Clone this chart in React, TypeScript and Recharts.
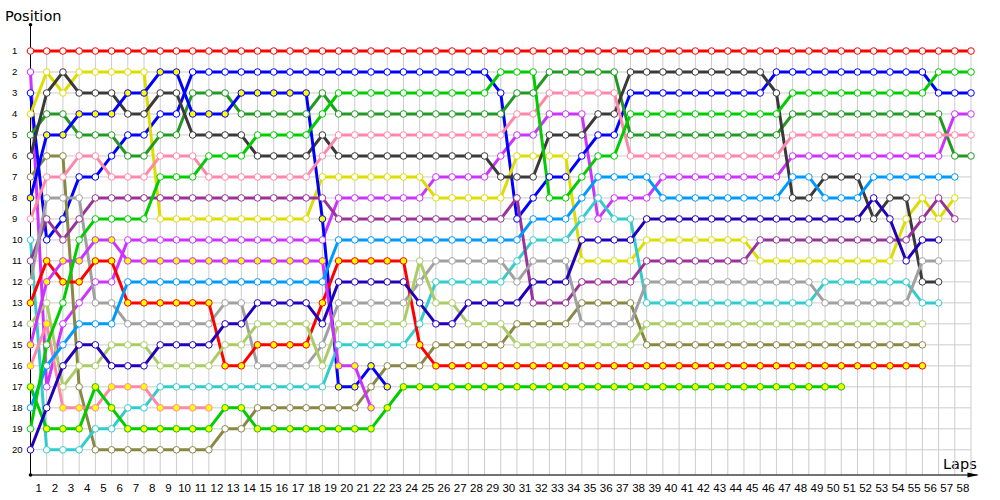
import React from 'react';
import { LineChart, Line, XAxis, YAxis, CartesianGrid, ReferenceLine } from 'recharts';

const n = null;

const laps = [
  0, 1, 2, 3, 4, 5, 6, 7, 8, 9, 10, 11, 12, 13, 14, 15, 16, 17, 18, 19,
  20, 21, 22, 23, 24, 25, 26, 27, 28, 29, 30, 31, 32, 33, 34, 35, 36, 37, 38, 39,
  40, 41, 42, 43, 44, 45, 46, 47, 48, 49, 50, 51, 52, 53, 54, 55, 56, 57, 58,
];
const lapTicks = laps.slice(1);
const positionTicks = [1, 2, 3, 4, 5, 6, 7, 8, 9, 10, 11, 12, 13, 14, 15, 16, 17, 18, 19, 20];

// position of each car at the end of every lap (lap 0 = grid), null = retired
const redWhite = [
  1, 1, 1, 1, 1, 1, 1, 1, 1, 1,
  1, 1, 1, 1, 1, 1, 1, 1, 1, 1,
  1, 1, 1, 1, 1, 1, 1, 1, 1, 1,
  1, 1, 1, 1, 1, 1, 1, 1, 1, 1,
  1, 1, 1, 1, 1, 1, 1, 1, 1, 1,
  1, 1, 1, 1, 1, 1, 1, 1, 1,
];
const violetWhite = [
  2, 17, 14, 13, 12, 12, 10, 10, 10, 10,
  10, 10, 10, 10, 10, 10, 10, 10, 10, 8,
  8, 8, 8, 8, 8, 7, 7, 7, 7, 6,
  5, 5, 4, 4, 4, 9, 8, 8, 8, 7,
  7, 7, 7, 7, 7, 7, 7, 6, 6, 6,
  6, 6, 6, 6, 6, 6, 6, 4, 4,
];
const blueWhite = [
  3, 10, 9, 7, 7, 6, 5, 5, 4, 4,
  2, 2, 2, 2, 2, 2, 2, 2, 2, 2,
  2, 2, 2, 2, 2, 2, 2, 2, 2, 3,
  9, 8, 7, 7, 6, 5, 5, 3, 3, 3,
  3, 3, 3, 3, 3, 3, 2, 2, 2, 2,
  2, 2, 2, 2, 2, 2, 3, 3, 3,
];
const yellow = [
  4, 2, 3, 2, 2, 2, 2, 2, 9, 9,
  9, 9, 9, 9, 9, 9, 9, 9, 7, 7,
  7, 7, 7, 7, 7, 8, 8, 8, 8, 8,
  6, 6, 6, 6, 11, 11, 11, 11, 10, 10,
  10, 10, 10, 10, 10, 11, 11, 11, 11, 11,
  11, 11, 11, 11, 9, 8, 9, 8, n,
];
const darkGreen = [
  5, 4, 4, 5, 5, 5, 6, 6, 5, 5,
  3, 3, 3, 4, 4, 4, 4, 4, 3, 4,
  4, 4, 4, 4, 4, 4, 4, 4, 4, 4,
  3, 3, 2, 2, 2, 2, 2, 5, 5, 5,
  5, 5, 5, 5, 5, 5, 5, 4, 4, 4,
  4, 4, 4, 4, 4, 4, 4, 6, 6,
];
const black = [
  6, 3, 2, 3, 3, 3, 4, 4, 3, 3,
  5, 5, 5, 5, 6, 6, 6, 6, 5, 6,
  6, 6, 6, 6, 6, 6, 6, 6, 6, 7,
  7, 7, 5, 5, 5, 4, 4, 2, 2, 2,
  2, 2, 2, 2, 2, 2, 3, 8, 8, 7,
  7, 7, 9, 8, 8, 12, 12, n, n,
];
const olive = [
  7, 6, 6, 17, 20, 20, 20, 20, 20, 20,
  20, 20, 19, 19, 18, 18, 18, 18, 18, 18,
  18, 17, 16, 16, 16, 15, 15, 15, 15, 15,
  14, 14, 14, 14, 13, 13, 13, 13, 15, 15,
  15, 15, 15, 15, 15, 15, 15, 15, 15, 15,
  15, 15, 15, 15, 15, 15, n, n, n,
];
const blueYellow = [
  8, 5, 5, 4, 4, 4, 3, 3, 2, 2,
  4, 4, 4, 3, 3, 3, 3, 3, 9, 17,
  17, 16, 17, n, n, n, n, n, n, n,
  n, n, n, n, n, n, n, n, n, n,
  n, n, n, n, n, n, n, n, n, n,
  n, n, n, n, n, n, n, n, n,
];
const pinkWhite = [
  9, 7, 7, 6, 6, 7, 7, 7, 6, 6,
  6, 7, 7, 7, 7, 7, 7, 7, 6, 5,
  5, 5, 5, 5, 5, 5, 5, 5, 5, 5,
  4, 4, 3, 3, 3, 3, 3, 6, 6, 6,
  6, 6, 6, 6, 6, 6, 6, 5, 5, 5,
  5, 5, 5, 5, 5, 5, 5, 5, 5,
];
const cyan = [
  10, 20, 20, 20, 19, 19, 18, 18, 17, 17,
  17, 17, 17, 17, 17, 17, 17, 17, 17, 15,
  15, 15, 15, 15, 14, 12, 12, 12, 12, 12,
  11, 10, 10, 10, 9, 8, 9, 9, 13, 13,
  13, 13, 13, 13, 13, 13, 13, 13, 13, 12,
  12, 12, 12, 12, 12, 13, 13, n, n,
];
const darkPurple = [
  11, 9, 10, 9, 8, 8, 8, 8, 8, 8,
  8, 8, 8, 8, 8, 8, 8, 8, 8, 9,
  9, 9, 9, 9, 9, 9, 9, 9, 9, 9,
  8, 13, 13, 13, 12, 12, 12, 12, 11, 11,
  11, 11, 11, 11, 11, 10, 10, 10, 10, 10,
  10, 10, 10, 10, 10, 9, 8, 9, n,
];
const gray = [
  12, 8, 8, 8, 13, 13, 14, 14, 14, 14,
  14, 14, 13, 13, 16, 16, 16, 16, 15, 13,
  13, 13, 13, 13, 12, 11, 11, 11, 11, 11,
  12, 11, 11, 11, 14, 14, 14, 14, 12, 12,
  12, 12, 12, 12, 12, 12, 12, 12, 12, 13,
  13, 13, 13, 13, 13, 11, 11, n, n,
];
const redYellow = [
  13, 11, 12, 12, 11, 11, 13, 13, 13, 13,
  13, 13, 16, 16, 15, 15, 15, 15, 13, 11,
  11, 11, 11, 11, 15, 16, 16, 16, 16, 16,
  16, 16, 16, 16, 16, 16, 16, 16, 16, 16,
  16, 16, 16, 16, 16, 16, 16, 16, 16, 16,
  16, 16, 16, 16, 16, 16, n, n, n,
];
const lightGreen = [
  14, 13, 17, 16, 16, 15, 15, 15, 16, 16,
  16, 16, 15, 15, 14, 14, 14, 14, 16, 14,
  14, 14, 14, 14, 11, 13, 13, 14, 14, 14,
  15, 15, 15, 15, 15, 15, 15, 15, 14, 14,
  14, 14, 14, 14, 14, 14, 14, 14, 14, 14,
  14, 14, 14, 14, 14, 14, n, n, n,
];
const violetYellow = [
  15, 12, 11, 11, 10, 10, 11, 11, 11, 11,
  11, 11, 11, 11, 11, 11, 11, 11, 11, 16,
  16, 18, n, n, n, n, n, n, n, n,
  n, n, n, n, n, n, n, n, n, n,
  n, n, n, n, n, n, n, n, n, n,
  n, n, n, n, n, n, n, n, n,
];
const pinkYellow = [
  16, 14, 18, 18, 18, 17, 17, 17, 18, 18,
  18, 18, n, n, n, n, n, n, n, n,
  n, n, n, n, n, n, n, n, n, n,
  n, n, n, n, n, n, n, n, n, n,
  n, n, n, n, n, n, n, n, n, n,
  n, n, n, n, n, n, n, n, n,
];
const greenYellow = [
  17, 19, 19, 19, 17, 18, 19, 19, 19, 19,
  19, 19, 18, 18, 19, 19, 19, 19, 19, 19,
  19, 19, 18, 17, 17, 17, 17, 17, 17, 17,
  17, 17, 17, 17, 17, 17, 17, 17, 17, 17,
  17, 17, 17, 17, 17, 17, 17, 17, 17, 17,
  17, n, n, n, n, n, n, n, n,
];
const lightBlue = [
  18, 16, 15, 14, 14, 14, 12, 12, 12, 12,
  12, 12, 12, 12, 12, 12, 12, 12, 12, 10,
  10, 10, 10, 10, 10, 10, 10, 10, 10, 10,
  10, 9, 9, 9, 8, 7, 7, 7, 7, 8,
  8, 8, 8, 8, 8, 8, 8, 7, 7, 8,
  8, 8, 7, 7, 7, 7, 7, 7, n,
];
const greenWhite = [
  19, 15, 13, 10, 9, 9, 9, 9, 7, 7,
  7, 6, 6, 6, 5, 5, 5, 5, 4, 3,
  3, 3, 3, 3, 3, 3, 3, 3, 3, 2,
  2, 2, 8, 8, 7, 6, 6, 4, 4, 4,
  4, 4, 4, 4, 4, 4, 4, 3, 3, 3,
  3, 3, 3, 3, 3, 3, 2, 2, 2,
];
const darkBlue = [
  20, 18, 16, 15, 15, 16, 16, 16, 15, 15,
  15, 15, 14, 14, 13, 13, 13, 13, 14, 12,
  12, 12, 12, 12, 13, 14, 14, 13, 13, 13,
  13, 12, 12, 12, 10, 10, 10, 10, 9, 9,
  9, 9, 9, 9, 9, 9, 9, 9, 9, 9,
  9, 9, 8, 9, 11, 10, 10, n, n,
];

const series = [
  { key: 'redWhite', data: redWhite, color: '#ff0000', fill: '#ffffff' },
  { key: 'violetWhite', data: violetWhite, color: '#cc33ff', fill: '#ffffff' },
  { key: 'blueWhite', data: blueWhite, color: '#0000ff', fill: '#ffffff' },
  { key: 'yellow', data: yellow, color: '#dddd00', fill: '#ffffff' },
  { key: 'darkGreen', data: darkGreen, color: '#229922', fill: '#ffffff' },
  { key: 'black', data: black, color: '#3a3a3a', fill: '#ffffff' },
  { key: 'olive', data: olive, color: '#888844', fill: '#ffffff' },
  { key: 'blueYellow', data: blueYellow, color: '#0000ff', fill: '#ffff00' },
  { key: 'pinkWhite', data: pinkWhite, color: '#ff88aa', fill: '#ffffff' },
  { key: 'cyan', data: cyan, color: '#33cccc', fill: '#ffffff' },
  { key: 'darkPurple', data: darkPurple, color: '#993399', fill: '#ffffff' },
  { key: 'gray', data: gray, color: '#a0a0a0', fill: '#ffffff' },
  { key: 'redYellow', data: redYellow, color: '#ff0000', fill: '#ffff00' },
  { key: 'lightGreen', data: lightGreen, color: '#aacc66', fill: '#ffffff' },
  { key: 'violetYellow', data: violetYellow, color: '#cc33ff', fill: '#ffff00' },
  { key: 'pinkYellow', data: pinkYellow, color: '#ff88aa', fill: '#ffff00' },
  { key: 'greenYellow', data: greenYellow, color: '#00cc00', fill: '#ffff00' },
  { key: 'lightBlue', data: lightBlue, color: '#0099ff', fill: '#ffffff' },
  { key: 'greenWhite', data: greenWhite, color: '#00cc00', fill: '#ffffff' },
  { key: 'darkBlue', data: darkBlue, color: '#2200bb', fill: '#ffffff' },
];

const rows = laps.map((lap, i) => {
  const row: Record<string, number | null> = { lap };
  series.forEach((s) => {
    row[s.key] = s.data[i];
  });
  return row;
});

const LapTick = (props: any) => (
  <text x={props.x - 8.1} y={492} textAnchor="middle" fontSize={11.5} fontFamily="Liberation Sans" fill="#000">
    {props.payload.value}
  </text>
);

const LeftTick = (props: any) => (
  <text x={12} y={props.y + 3.4} textAnchor="start" fontSize={9.5} fontFamily="Liberation Sans" fill="#000">
    {props.payload.value}
  </text>
);

const RightTick = (props: any) => (
  <text x={977} y={props.y + 3.4} textAnchor="start" fontSize={9.5} fontFamily="Liberation Sans" fill="#000">
    {props.payload.value}
  </text>
);

const XArrow = (p: any) => (
  <g>
    <line x1={p.x1} y1={p.y1} x2={p.x2} y2={p.y2} stroke="#000" strokeWidth={1} />
    <polygon points={`${p.x2 + 1},${p.y2} ${p.x2 - 10},${p.y2 - 2.5} ${p.x2 - 10},${p.y2 + 2.5}`} fill="#000" />
  </g>
);

const YArrow = (p: any) => (
  <g>
    <line x1={p.x1} y1={p.y1} x2={p.x2} y2={p.y2} stroke="#000" strokeWidth={1} />
    <circle cx={p.x2} cy={p.y2} r={1.8} fill="#000" />
    <circle cx={p.x1} cy={p.y1} r={1.8} fill="#000" />
  </g>
);

export default function App() {
  return (
    <div style={{ position: 'absolute', left: 0, top: 0, width: 1000, height: 500, background: '#fff' }}>
      <div style={{ position: 'absolute', left: 5, top: 8, fontFamily: 'DejaVu Sans', fontSize: 14.5, lineHeight: '16px', color: '#000' }}>
        Position
      </div>
      <div style={{ position: 'absolute', left: 943, top: 456, fontFamily: 'DejaVu Sans', fontSize: 14.5, lineHeight: '16px', color: '#000' }}>
        Laps
      </div>
      <LineChart width={1000} height={500} data={rows} margin={{ top: 51, right: 0, bottom: 0, left: 0 }}>
        <CartesianGrid stroke="#cccccc" yAxisId="l" />
        <XAxis
          dataKey="lap"
          type="number"
          domain={[0, 58]}
          ticks={lapTicks}
          interval={0}
          height={25}
          axisLine={false}
          tickLine={false}
          tick={<LapTick />}
        />
        <YAxis
          yAxisId="l"
          type="number"
          domain={[1, 21.2]}
          reversed
          ticks={positionTicks}
          interval={0}
          width={30.5}
          axisLine={false}
          tickLine={false}
          tick={<LeftTick />}
        />
        <YAxis
          yAxisId="r"
          orientation="right"
          type="number"
          domain={[1, 21.2]}
          reversed
          ticks={positionTicks}
          interval={0}
          width={29}
          axisLine={false}
          tickLine={false}
          tick={<RightTick />}
        />
        <ReferenceLine
          yAxisId="l"
          segment={[{ x: 0, y: 21.2 }, { x: 58.4, y: 21.2 }]}
          ifOverflow="visible"
          shape={XArrow}
        />
        <ReferenceLine
          yAxisId="l"
          segment={[{ x: 0, y: 21.2 }, { x: 0, y: -0.25 }]}
          ifOverflow="visible"
          shape={YArrow}
        />
        {series.map((s) => (
          <Line
            key={s.key}
            yAxisId="l"
            dataKey={s.key}
            type="linear"
            stroke={s.color}
            strokeWidth={3}
            dot={{ r: 3.3, fill: s.fill, stroke: s.color, strokeWidth: 1 }}
            activeDot={false}
            isAnimationActive={false}
          />
        ))}
      </LineChart>
    </div>
  );
}
